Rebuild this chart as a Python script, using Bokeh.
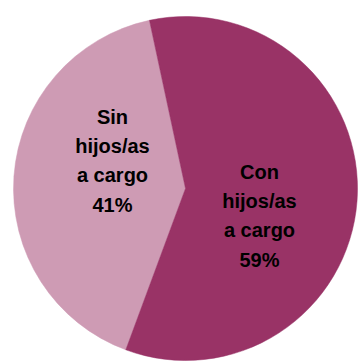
import math
from bokeh.plotting import figure
from bokeh.models import Range1d, ColumnDataSource
from bokeh.core.properties import value
from bokeh.embed import file_html
from bokeh.resources import INLINE

# Data
categories = ["Sin hijos/as a cargo", "Con hijos/as a cargo"]
values = [41, 59]
label_lines = [["Sin", "hijos/as", "a cargo", "41%"],
               ["Con", "hijos/as", "a cargo", "59%"]]
colors = ["#CE9BB4", "#993366"]

# Layout (page-pixel based data coordinates, y = -page_y)
W, H = 360, 362
cx, cy, r = 185, -188, 172
start_deg = 102.1
label_anchor = [(112, -116), (259, -171)]  # center x, first-line baseline
line_step = 29.4

total = sum(values)
starts, ends = [], []
acc = math.radians(start_deg)
for v in values:
    starts.append(acc)
    acc += 2 * math.pi * v / total
    ends.append(acc)

p = figure(width=W, height=H, output_backend="svg", toolbar_location=None,
           x_range=Range1d(0, W), y_range=Range1d(-H, 0),
           min_border=0, min_border_left=0, min_border_right=0,
           min_border_top=0, min_border_bottom=0)
p.axis.visible = False
p.grid.visible = False
p.outline_line_color = None
p.background_fill_color = "white"
p.border_fill_color = "white"

src = ColumnDataSource(dict(x=[cx] * len(values), y=[cy] * len(values),
                            start=starts, end=ends, color=colors, cat=categories))
p.wedge(x="x", y="y", radius=r, start_angle="start", end_angle="end",
        fill_color="color", line_color="color", line_width=0.5, source=src)

tx, ty, tt = [], [], []
for (ax, ay), lines in zip(label_anchor, label_lines):
    for i, ln in enumerate(lines):
        tx.append(ax)
        ty.append(ay - i * line_step)
        tt.append(ln)
p.text(x=tx, y=ty, text=tt, text_align="center", text_baseline="alphabetic",
       text_font=value("Liberation Sans"), text_font_style="bold",
       text_font_size="20px", text_color="black")

open("out.html", "w").write(file_html(p, INLINE))
